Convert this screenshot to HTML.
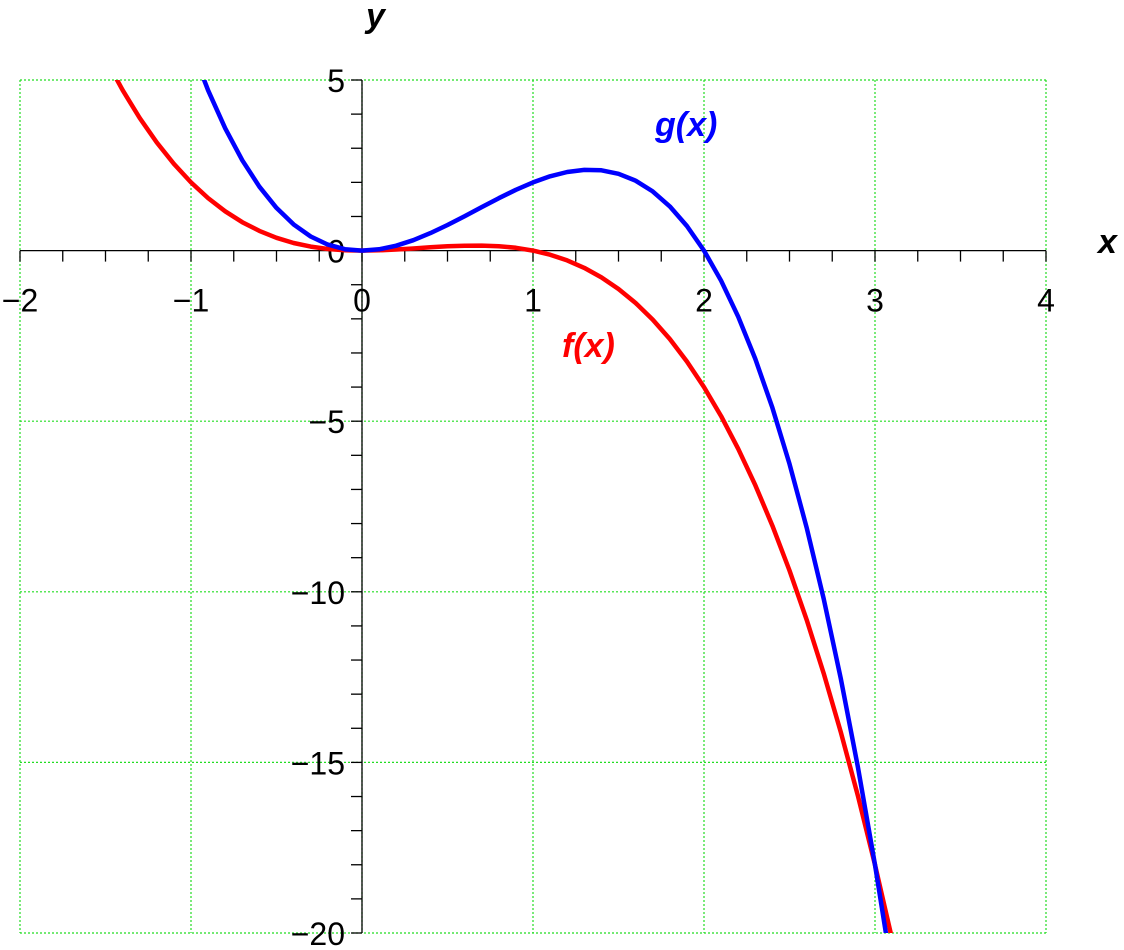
<!DOCTYPE html>
<html><head><meta charset="utf-8"><style>
html,body{margin:0;padding:0;background:#fff;}
svg{display:block;font-family:"Liberation Sans",sans-serif;}
</style></head><body>
<svg id="chart" width="1124" height="950" viewBox="0 0 1124 950"></svg>
<script>
const xTicks = [-2,-1,0,1,2,3,4];
const yTicks = [5,-5,-10,-15,-20];
const xTickLabels = ["−2","−1","0","1","2","3","4"];
const yTickLabels = ["5","−5","−10","−15","−20"];
const fX = [-1.5,-1.4,-1.3,-1.2,-1.1,-1.0,-0.9,-0.8,-0.7,-0.6,-0.5,-0.4,-0.3,-0.2,-0.1,0,0.1,0.2,0.3,0.4,0.5,0.6,0.7,0.8,0.9,1.0,1.1,1.2,1.3,1.4,1.5,1.6,1.7,1.8,1.9,2.0,2.1,2.2,2.3,2.4,2.5,2.6,2.7,2.8,2.9,3.0,3.1];
const fY = [5.625,4.704,3.887,3.168,2.541,2,1.539,1.152,0.833,0.576,0.375,0.224,0.117,0.048,0.011,0,0.009,0.032,0.063,0.096,0.125,0.144,0.147,0.128,0.081,0,-0.121,-0.288,-0.507,-0.784,-1.125,-1.536,-2.023,-2.592,-3.249,-4,-4.851,-5.808,-6.877,-8.064,-9.375,-10.816,-12.393,-14.112,-15.979,-18,-20.18];
const gX = [-1.0,-0.9,-0.8,-0.7,-0.6,-0.5,-0.4,-0.3,-0.2,-0.1,0,0.1,0.2,0.3,0.4,0.5,0.6,0.7,0.8,0.9,1.0,1.1,1.2,1.3,1.4,1.5,1.6,1.7,1.8,1.9,2.0,2.1,2.2,2.3,2.4,2.5,2.6,2.7,2.8,2.9,3.0,3.1];
const gY = [6,4.698,3.584,2.646,1.872,1.25,0.768,0.414,0.176,0.042,0,0.038,0.144,0.306,0.512,0.75,1.008,1.274,1.536,1.782,2,2.178,2.304,2.366,2.352,2.25,2.048,1.734,1.296,0.722,0,-0.882,-1.936,-3.174,-4.608,-6.25,-8.112,-10.206,-12.544,-15.138,-18,-21.14];

const NS="http://www.w3.org/2000/svg";
const svg=document.getElementById('chart');
const X0=20,X1=1046,Y0=80,Y1=933;
const sx=v=>X0+(v+2)/6*(X1-X0);
const sy=v=>Y0+(5-v)/25*(Y1-Y0);
function mk(tag,attrs,parent){const e=document.createElementNS(NS,tag);for(const k in attrs)e.setAttribute(k,attrs[k]);(parent||svg).appendChild(e);return e;}

const defs=mk('defs',{});
const cp=mk('clipPath',{id:'clip'},defs);
mk('rect',{x:X0,y:Y0,width:X1-X0,height:Y1-Y0},cp);

const grid=mk('g',{stroke:'#22dd22','stroke-width':1.2,'stroke-dasharray':'2,2',fill:'none'});


xTicks.forEach(t=>{const l=mk('line',{x1:sx(t),x2:sx(t),y1:Y0,y2:Y1},grid);

});
yTicks.forEach(t=>{const l=mk('line',{x1:X0,x2:X1,y1:sy(t),y2:sy(t)},grid);

});

const ax=mk('g',{stroke:'#000','stroke-width':1.3});


mk('line',{x1:X0,x2:X1,y1:sy(0),y2:sy(0)},ax);
mk('line',{x1:sx(0),x2:sx(0),y1:Y0,y2:Y1},ax);
for(let v=-2;v<=4.001;v+=0.25){mk('line',{x1:sx(v),x2:sx(v),y1:sy(0),y2:sy(0)+11},ax);}
for(let v=-20;v<=5;v+=1){mk('line',{x1:sx(0)-11,x2:sx(0),y1:sy(v),y2:sy(v)},ax);}

xTicks.forEach((t,i)=>{const e=mk('text',{x:sx(t),y:sy(0)+61,'text-anchor':'middle','font-size':32});e.textContent=xTickLabels[i];

});
yTicks.forEach((t,i)=>{const e=mk('text',{x:sx(0)-17,y:sy(t)+12,'text-anchor':'end','font-size':32});e.textContent=yTickLabels[i];

});
const z=mk('text',{x:sx(0)-17,y:sy(0)+12,'text-anchor':'end','font-size':32});z.textContent='0';



function curve(xs,ys,color,name){const d=xs.map((x,i)=>(i?'L':'M')+sx(x).toFixed(1)+','+sy(ys[i]).toFixed(1)).join('');
const p=mk('path',{d,fill:'none',stroke:color,'stroke-width':4.5,'stroke-linejoin':'round','clip-path':'url(#clip)'});

}
curve(fX,fY,'#ff0000','f-curve');
curve(gX,gY,'#0000ff','g-curve');

function lab(t,x,y,c,name,fs){const e=mk('text',{x,y,fill:c,'font-size':fs||34,'font-weight':'bold','font-style':'italic'});e.textContent=t;

}
lab('g(x)',655,136,'#0000ff','g-label');
lab('f(x)',562,357,'#ff0000','f-label');
lab('x',1098,253,'#000','x-axis-title');
lab('y',366,27,'#000','y-axis-title');
</script>
</body></html>
